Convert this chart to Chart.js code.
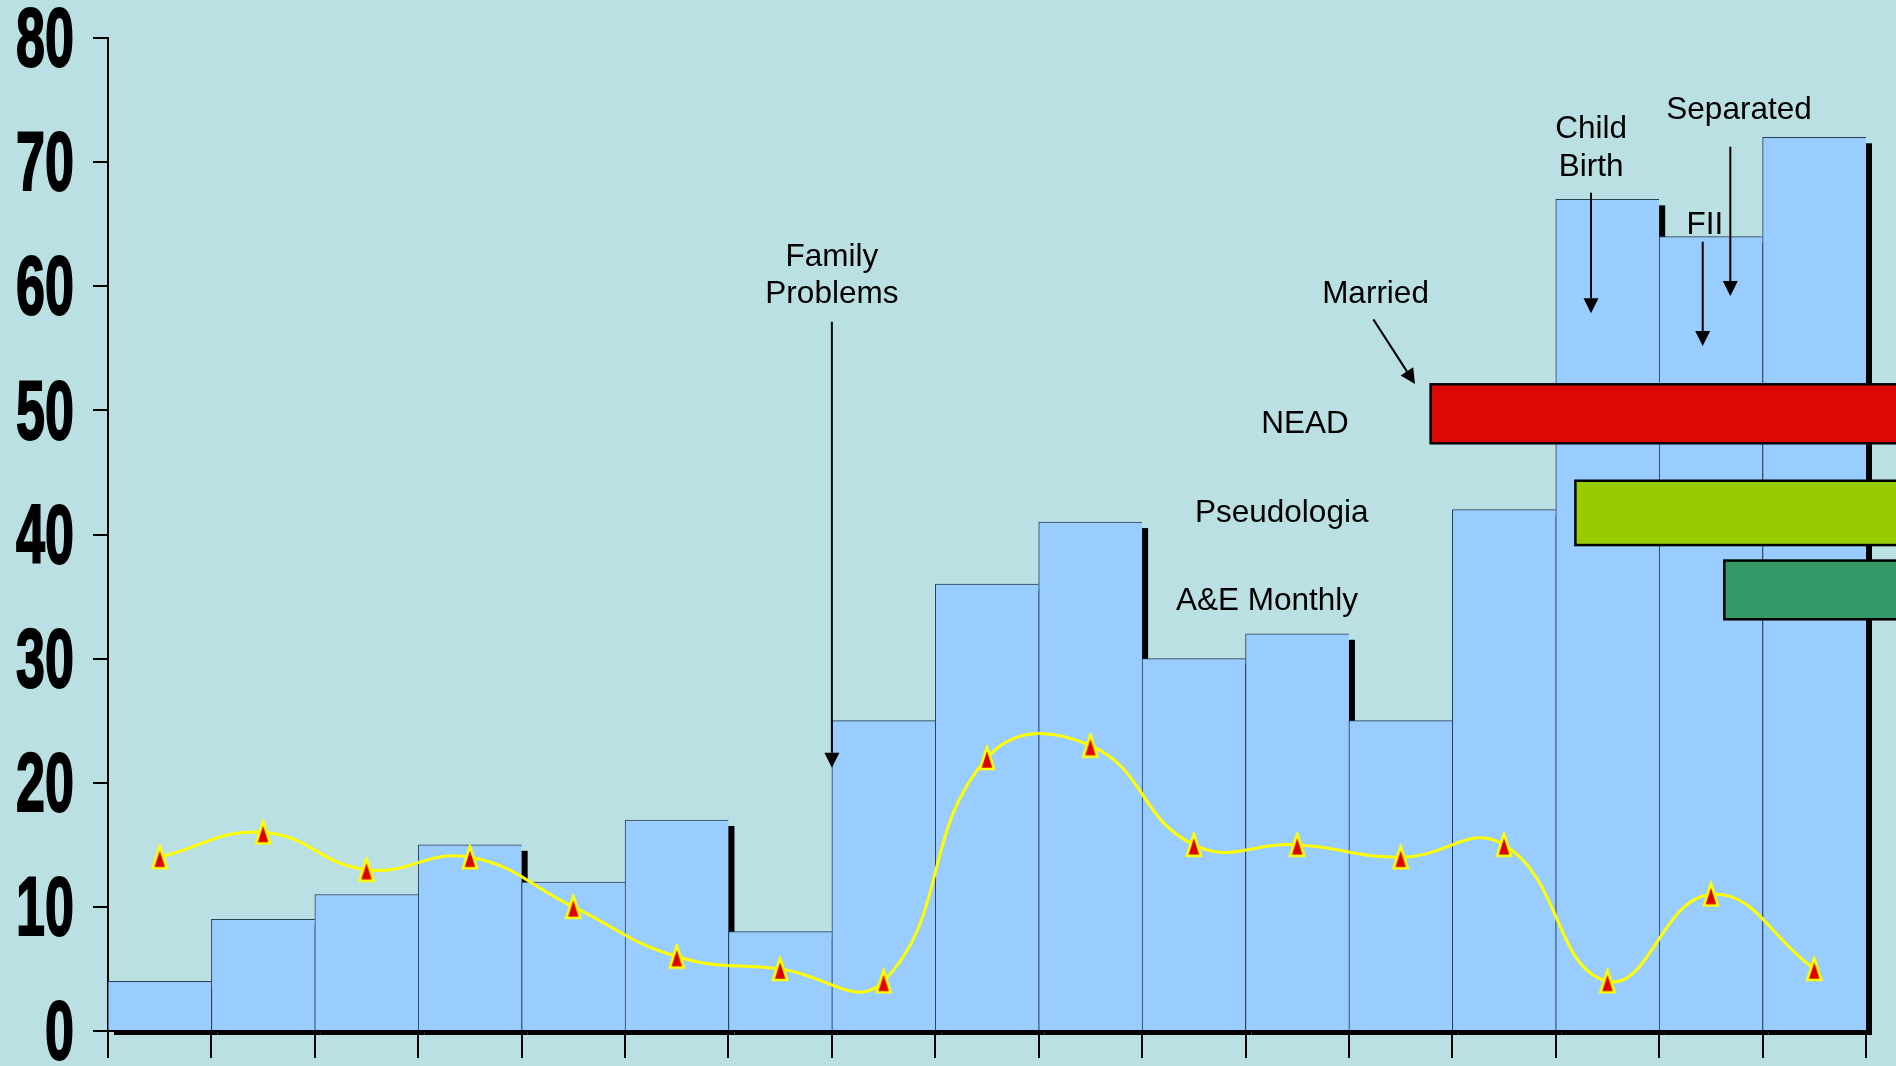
<!DOCTYPE html>
<html>
<head>
<meta charset="utf-8">
<script src="https://cdn.jsdelivr.net/npm/chart.js@4.4.1/dist/chart.umd.min.js"></script>
<style>
  html, body { margin: 0; padding: 0; background: #BBE0E3; overflow: hidden; }
  #wrap { width: 1896px; height: 1066px; }
  canvas { display: block; }
</style>
</head>
<body>
<div id="wrap"><canvas id="c" width="1896" height="1066"></canvas></div>
<script>
// ---------- data ----------
const periods = ['1','2','3','4','5','6','7','8','9','10','11','12','13','14','15','16','17'];
const barValues = [4, 9, 11, 15, 12, 17, 8, 25, 36, 41, 30, 32, 25, 42, 67, 64, 72];
const lineValues = [14, 16, 13, 14, 10, 6, 5, 4, 22, 23, 15, 15, 14, 15, 4, 11, 5];
const yTickValues = [0, 10, 20, 30, 40, 50, 60, 70, 80];

// status periods (horizontal blocks): start position on the period axis, low/high on value axis
const statusNames = ['NEAD', 'Pseudologia', 'A&E Monthly'];
const statusStart = [12.29, 13.69, 15.13];
const statusLow = [47.35, 39.15, 33.17];
const statusHigh = [52.1, 44.33, 37.9];

// life events
const eventNames = [['Family', 'Problems'], ['Married'], ['Child', 'Birth'], ['FII'], ['Separated']];

// ---------- layout / styles for annotations (data-unit anchors) ----------
const statusColors = ['#DD0806', '#99CC00', '#339966'];
const statusLabelPos = [[11.075, 48.15], [10.85, 41.03], [10.708, 33.92]];
const eventLabelPos = [[6.5, 61.66], [11.757, 58.63], [13.841, 71.92], [14.943, 64.21], [15.272, 73.45]];
const eventArrows = [
  [[6.5, 57.15], [6.5, 21.2]],
  [[11.736, 57.33], [12.139, 52.13]],
  [[13.841, 67.54], [13.841, 57.82]],
  [[14.921, 63.59], [14.921, 55.19]],
  [[15.188, 71.24], [15.188, 59.21]]
];
const NOTE_FONT = '31.5px "Liberation Sans", Arial, sans-serif';
const NOTE_LINE = 37.6;

// ---------- marker ----------
function makeTriangle() {
  const c = document.createElement('canvas');
  c.width = 18; c.height = 26;
  const g = c.getContext('2d');
  g.beginPath();
  g.moveTo(9, 2); g.lineTo(16, 24); g.lineTo(2, 24); g.closePath();
  g.fillStyle = '#DD0000'; g.fill();
  g.lineWidth = 2.6; g.strokeStyle = '#FFFF00'; g.lineJoin = 'miter'; g.stroke();
  return c;
}
const tri = makeTriangle();

// ---------- plugins ----------
const shadowPlugin = {
  id: 'barShadow',
  beforeDatasetsDraw(chart) {
    const ctx = chart.ctx;
    const meta = chart.getDatasetMeta(0);
    ctx.save();
    ctx.fillStyle = '#000';
    meta.data.forEach(bar => {
      const p = bar.getProps(['x', 'y', 'base', 'width'], true);
      ctx.fillRect(p.x - p.width / 2 + 6, p.y + 6, p.width, p.base - p.y - 1);
    });
    ctx.restore();
  }
};

const condenseYLabels = {
  id: 'condenseYLabels',
  afterUpdate(chart) {
    const s = chart.scales.y;
    if (!s || s._condensed) return;
    const orig = s.drawLabels.bind(s);
    s.drawLabels = function (area) {
      const ctx = this.ctx;
      const ax = this.right - this.options.grid.tickLength - this.options.ticks.padding;
      const L = this.left;
      this.left = -400;
      ctx.save();
      ctx.translate(ax, 5); ctx.scale(0.62, 1); ctx.translate(-ax, 0);
      orig(area);
      ctx.restore();
      this.left = L;
    };
    s._condensed = true;
  }
};

function drawArrow(ctx, x1, y1, x2, y2) {
  const a = Math.atan2(y2 - y1, x2 - x1);
  const hl = 15, hw = 7.5;
  const bx = x2 - hl * Math.cos(a), by = y2 - hl * Math.sin(a);
  ctx.beginPath(); ctx.moveTo(x1, y1); ctx.lineTo(bx, by);
  ctx.lineWidth = 2; ctx.strokeStyle = '#000'; ctx.stroke();
  ctx.beginPath(); ctx.moveTo(x2, y2);
  ctx.lineTo(bx + hw * Math.sin(a), by - hw * Math.cos(a));
  ctx.lineTo(bx - hw * Math.sin(a), by + hw * Math.cos(a));
  ctx.closePath(); ctx.fillStyle = '#000'; ctx.fill();
}

const statusPlugin = {
  id: 'statusBlocks',
  afterDatasetsDraw(chart) {
    const ctx = chart.ctx, xs = chart.scales.x, ys = chart.scales.y;
    ctx.save();
    statusNames.forEach((n, i) => {
      const x0 = xs.getPixelForValue(statusStart[i]);
      const x1 = xs.getPixelForValue(periods.length + 0.5);
      const yTop = ys.getPixelForValue(statusHigh[i]);
      const yBot = ys.getPixelForValue(statusLow[i]);
      ctx.fillStyle = statusColors[i];
      ctx.fillRect(x0, yTop, x1 - x0, yBot - yTop);
      ctx.lineWidth = 2.5; ctx.strokeStyle = '#000';
      ctx.strokeRect(x0, yTop, x1 - x0, yBot - yTop);
    });
    ctx.restore();
  },
  afterDraw(chart) {
    const ctx = chart.ctx, xs = chart.scales.x, ys = chart.scales.y;
    ctx.save();
    ctx.font = NOTE_FONT; ctx.fillStyle = '#000';
    ctx.textAlign = 'center'; ctx.textBaseline = 'alphabetic';
    statusNames.forEach((n, i) => {
      ctx.fillText(n, xs.getPixelForValue(statusLabelPos[i][0]), ys.getPixelForValue(statusLabelPos[i][1]));
    });
    eventNames.forEach((lines, i) => {
      const x = xs.getPixelForValue(eventLabelPos[i][0]);
      const y = ys.getPixelForValue(eventLabelPos[i][1]);
      lines.forEach((t, k) => ctx.fillText(t, x, y + k * NOTE_LINE));
      const [p, q] = eventArrows[i];
      drawArrow(ctx, xs.getPixelForValue(p[0]), ys.getPixelForValue(p[1]),
                     xs.getPixelForValue(q[0]), ys.getPixelForValue(q[1]));
    });
    ctx.restore();
  }
};

// ---------- chart ----------
new Chart(document.getElementById('c'), {
  type: 'bar',
  data: {
    labels: periods,
    datasets: [
      {
        type: 'bar',
        data: barValues,
        backgroundColor: '#99CCFF',
        borderColor: '#2B3F55',
        borderWidth: { top: 1, left: 1, right: 0, bottom: 0 },
        borderSkipped: false,
        categoryPercentage: 1.0,
        barPercentage: 1.0,
        order: 2
      },
      {
        type: 'line',
        data: lineValues,
        borderColor: '#FFFF00',
        borderWidth: 3,
        tension: 0.45,
        pointStyle: tri,
        pointRadius: 10,
        pointHoverRadius: 10,
        fill: false,
        order: 1
      }
    ]
  },
  options: {
    responsive: false,
    devicePixelRatio: 1,
    animation: false,
    events: [],
    layout: { padding: { top: 38, right: 30, left: 0, bottom: 0 } },
    plugins: { legend: { display: false }, tooltip: { enabled: false }, title: { display: false } },
    scales: {
      x: {
        type: 'category',
        offset: true,
        grid: { display: true, drawOnChartArea: false, drawTicks: true, tickLength: 27, color: '#000', lineWidth: 2, offset: true },
        border: { display: true, color: '#000', width: 2 },
        ticks: { display: false },
        afterFit(s) { s.height = 35; s.paddingLeft = 0; s.paddingRight = 0; }
      },
      y: {
        type: 'linear',
        min: 0, max: 80,
        afterBuildTicks(s) { s.ticks = yTickValues.map(v => ({ value: v })); },
        grid: { display: true, drawOnChartArea: false, drawTicks: true, tickLength: 15, color: '#000', lineWidth: 2 },
        border: { display: true, color: '#000', width: 2 },
        ticks: {
          autoSkip: false,
          padding: 19,
          color: '#000',
          textStrokeColor: '#000',
          textStrokeWidth: 2,
          font: { family: '"Liberation Sans", Arial, sans-serif', size: 84, weight: 'bold', lineHeight: 1.0 }
        },
        afterFit(s) { s.width = 108; s.paddingTop = 0; s.paddingBottom = 0; }
      }
    }
  },
  plugins: [shadowPlugin, condenseYLabels, statusPlugin]
});
</script>
</body>
</html>
